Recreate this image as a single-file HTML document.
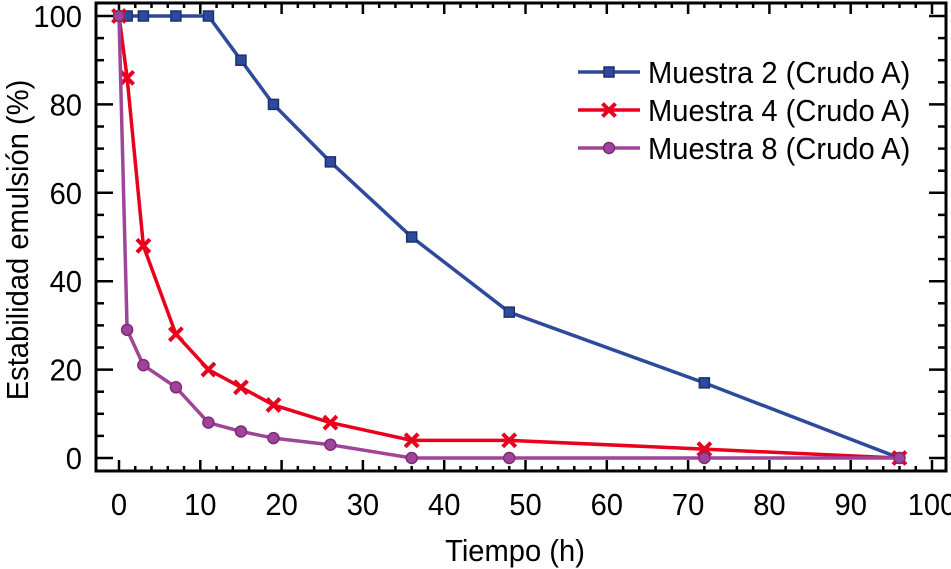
<!DOCTYPE html>
<html><head><meta charset="utf-8"><style>
body{margin:0;background:#fff;}
svg{display:block;font-family:"Liberation Sans",Arial,sans-serif;}
</style></head><body>
<svg id="chart" width="951" height="569">
<g id="axes"></g><g id="series"></g><g id="legend"></g>
<text transform="translate(515,561) scale(0.94,1)" font-size="31" text-anchor="middle">Tiempo (h)</text>
<text transform="translate(28,240) rotate(-90) scale(0.94,1)" font-size="31" text-anchor="middle">Estabilidad emulsión (%)</text>
</svg>
<script>
const times = [0,1,3,7,11,15,19,26,36,48,72,96];
const muestra2 = [100,100,100,100,100,90,80,67,50,33,17,0];
const muestra4 = [100,86,48,28,20,16,12,8,4,4,2,0];
const muestra8 = [100,29,21,16,8,6,4.5,3,0,0,0,0];
const xTicks = [0,10,20,30,40,50,60,70,80,90,100];
const yTicks = [0,20,40,60,80,100];
const seriesNames = ["Muestra 2 (Crudo A)","Muestra 4 (Crudo A)","Muestra 8 (Crudo A)"];

const NS="http://www.w3.org/2000/svg";
const L=96,R=946,T=3,B=471;
const x=v=>119+v*8.13;
const y=v=>458-v*4.42;
function mk(tag,at,parent){const e=document.createElementNS(NS,tag);for(const k in at)e.setAttribute(k,at[k]);parent.appendChild(e);return e;}
const axes=document.getElementById('axes');
const frame=mk('rect',{x:L,y:T,width:R-L,height:B-T,fill:'none',stroke:'#000','stroke-width':3},axes);


for(let v=0;v<=100;v+=2){
  const len=v%10===0?11:5;
  const t=mk('line',{x1:x(v),x2:x(v),y1:B,y2:B-len,stroke:'#000','stroke-width':2.5},axes);
  
  
  const t2=mk('line',{x1:x(v),x2:x(v),y1:T,y2:T+len,stroke:'#000','stroke-width':2.5},axes);
  
  
}
for(let v=0;v<=100;v+=5){
  const len=v%20===0?17:8;
  const t=mk('line',{x1:L,x2:L+len,y1:y(v),y2:y(v),stroke:'#000','stroke-width':2.5},axes);
  
  
  const t2=mk('line',{x1:R,x2:R-len,y1:y(v),y2:y(v),stroke:'#000','stroke-width':2.5},axes);
  
  
}
xTicks.forEach(v=>{const t=mk('text',{transform:`translate(${x(v)},515) scale(0.94,1)`,'font-size':31,'text-anchor':'middle'},axes);t.textContent=v;
  
  });
yTicks.forEach(v=>{const t=mk('text',{transform:`translate(82,${y(v)+11}) scale(0.94,1)`,'font-size':31,'text-anchor':'end'},axes);t.textContent=v;
  
  });

const colors=['#2e4a9c','#e8001c','#a0449a'];
const data=[muestra2,muestra4,muestra8];
const sg=document.getElementById('series');
function marker(i,cx,cy,g){
  let m;
  if(i===0){m=mk('rect',{x:cx-5,y:cy-5,width:10,height:10,fill:colors[0],stroke:'#1c3070','stroke-width':1.5},g);}
  else if(i===1){m=mk('path',{d:`M${cx-6.5},${cy-6.5}L${cx+6.5},${cy+6.5}M${cx-6.5},${cy+6.5}L${cx+6.5},${cy-6.5}`,stroke:colors[1],'stroke-width':4,fill:'none'},g);}
  else {m=mk('circle',{cx,cy,r:5.5,fill:colors[2],stroke:'#7a2c76','stroke-width':1.5},g);}
  return m;
}
data.forEach((vals,i)=>{
  const g=mk('g',{},sg);
  
  
  const p=mk('polyline',{points:vals.map((v,j)=>x(times[j])+','+y(v)).join(' '),fill:'none',stroke:colors[i],'stroke-width':3.5},g);
  
  
  vals.forEach((v,j)=>{const m=marker(i,x(times[j]),y(v),g);
    
    });
});
const lg=document.getElementById('legend');
seriesNames.forEach((n,i)=>{
  const yy=72+i*38;
  const g=mk('g',{},lg);
  
  
  mk('line',{x1:578,x2:640,y1:yy,y2:yy,stroke:colors[i],'stroke-width':3.5},g);
  marker(i,609,yy,g);
  const t=mk('text',{transform:`translate(648,${yy+11}) scale(0.94,1)`,'font-size':31},g);t.textContent=n;
});
</script>
</body></html>
